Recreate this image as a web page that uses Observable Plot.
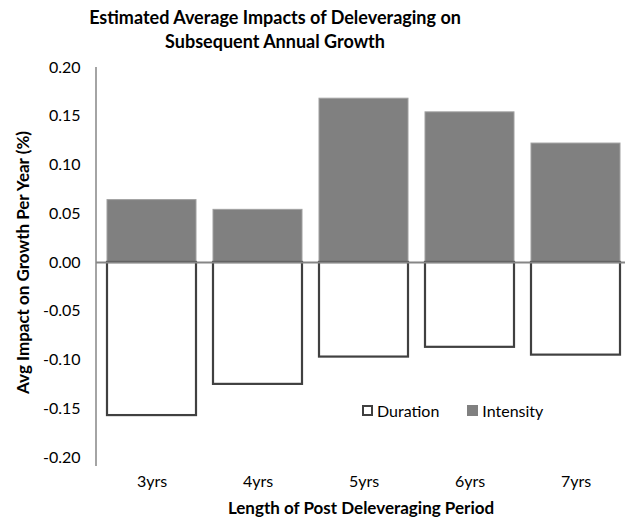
<!DOCTYPE html>
<html>
<head>
<meta charset="utf-8">
<script src="https://cdn.jsdelivr.net/npm/d3@7"></script>
<script src="https://cdn.jsdelivr.net/npm/@observablehq/plot@0.6"></script>
<style>
  body { margin: 0; background: #fff; }
  #wrap { position: relative; width: 625px; height: 525px; font-family: Lato, "Open Sans", sans-serif; }
  #title { position: absolute; left: 0; top: 5px; width: 550px; text-align: center; font-weight: bold; font-size: 18px; line-height: 24px; color: #000; }
  #legend { position: absolute; left: 362px; top: 401px; font-size: 16px; color: #000; display: flex; align-items: center; }
  .sw { display: inline-block; width: 9px; height: 9px; margin-right: 4px; }
  g[aria-label="x-axis label"] text, g[aria-label="y-axis label"] text { font-weight: bold; font-size: 17px; }
</style>
</head>
<body>
<div id="wrap">
  <div id="title">Estimated Average Impacts of Deleveraging on<br>Subsequent Annual Growth</div>
  <div id="chart"></div>
  <div id="legend">
    <span class="sw" style="border:2px solid #404040; width:7px; height:7px; background:#fff"></span><span style="margin-right:28px">Duration</span>
    <span class="sw" style="background:#808080; width:11px; height:11px"></span><span>Intensity</span>
  </div>
</div>
<script>
const categories = ["3yrs", "4yrs", "5yrs", "6yrs", "7yrs"];
const intensity = [0.064, 0.054, 0.168, 0.154, 0.122];
const duration = [-0.157, -0.125, -0.097, -0.087, -0.095];
const yTicks = [-0.20, -0.15, -0.10, -0.05, 0.00, 0.05, 0.10, 0.15, 0.20];

const intData = categories.map((c, i) => ({cat: c, v: intensity[i]}));
const durData = categories.map((c, i) => ({cat: c, v: duration[i]}));

const yAxisLine = (index, scales, values, dims) => {
  const ns = "http://www.w3.org/2000/svg";
  const l = document.createElementNS(ns, "line");
  l.setAttribute("x1", dims.marginLeft);
  l.setAttribute("x2", dims.marginLeft);
  l.setAttribute("y1", scales.y(0.2));
  l.setAttribute("y2", scales.y(-0.2) + 9);
  l.setAttribute("stroke", "#868686");
  l.setAttribute("stroke-width", 1.5);
  return l;
};

const chart = Plot.plot({
  width: 625,
  height: 525,
  marginTop: 67,
  marginBottom: 68,
  marginLeft: 96,
  marginRight: 0,
  style: {fontFamily: "Lato, 'Open Sans', sans-serif", fontSize: "16px", color: "#000", background: "#fff"},
  x: {domain: categories, range: [96, 631], paddingInner: 0.157, paddingOuter: 0.084, tickSize: 0, tickPadding: 18,
      label: "Length of Post Deleveraging Period", labelAnchor: "center", labelOffset: 56},
  y: {domain: [-0.2, 0.2], ticks: yTicks, tickFormat: d => d.toFixed(2), tickSize: 0, tickPadding: 16,
      label: "Avg Impact on Growth Per Year (%)", labelAnchor: "center", labelOffset: 80, labelArrow: "none"},
  marks: [
    Plot.barY(intData, {x: "cat", y: "v", fill: "#808080", stroke: "#a0a0a0", strokeWidth: 1}),
    Plot.barY(durData, {x: "cat", y: "v", fill: "#fff", stroke: "#404040", strokeWidth: 2.2}),
    Plot.ruleY([0], {stroke: "#868686", strokeWidth: 2}),
    yAxisLine
  ]
});
document.getElementById("chart").appendChild(chart);
</script>
</body>
</html>
